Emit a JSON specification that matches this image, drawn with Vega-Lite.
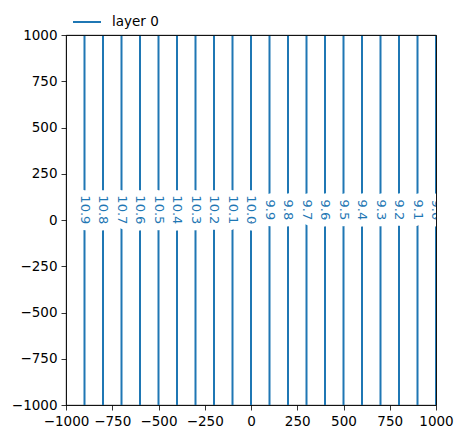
{
  "$schema": "https://vega.github.io/schema/vega-lite/v6.json",
  "width": 370,
  "height": 370,
  "autosize": {"type": "none"},
  "padding": {"left": 66, "top": 35, "right": 27, "bottom": 33},
  "background": "white",
  "config": {
    "font": "DejaVu Sans",
    "view": {"stroke": "black", "strokeWidth": 0.8},
    "axis": {
      "grid": false,
      "labelFont": "DejaVu Sans",
      "labelFontSize": 13.5,
      "labelColor": "black",
      "labelOverlap": false,
      "labelFlush": false,
      "tickColor": "black",
      "tickWidth": 0.8,
      "tickSize": 5,
      "domainColor": "black",
      "domainWidth": 0.8,
      "labelPadding": 4,
      "title": null
    }
  },
  "data": {
    "values": [
      {"x": -900, "level": 10.9, "series": "layer 0"},
      {"x": -800, "level": 10.8, "series": "layer 0"},
      {"x": -700, "level": 10.7, "series": "layer 0"},
      {"x": -600, "level": 10.6, "series": "layer 0"},
      {"x": -500, "level": 10.5, "series": "layer 0"},
      {"x": -400, "level": 10.4, "series": "layer 0"},
      {"x": -300, "level": 10.3, "series": "layer 0"},
      {"x": -200, "level": 10.2, "series": "layer 0"},
      {"x": -100, "level": 10.1, "series": "layer 0"},
      {"x": 0, "level": 10.0, "series": "layer 0"},
      {"x": 100, "level": 9.9, "series": "layer 0"},
      {"x": 200, "level": 9.8, "series": "layer 0"},
      {"x": 300, "level": 9.7, "series": "layer 0"},
      {"x": 400, "level": 9.6, "series": "layer 0"},
      {"x": 500, "level": 9.5, "series": "layer 0"},
      {"x": 600, "level": 9.4, "series": "layer 0"},
      {"x": 700, "level": 9.3, "series": "layer 0"},
      {"x": 800, "level": 9.2, "series": "layer 0"},
      {"x": 900, "level": 9.1, "series": "layer 0"},
      {"x": 1000, "level": 9.0, "series": "layer 0"}
    ]
  },
  "resolve": {"axis": {"x": "independent", "y": "independent"}},
  "layer": [
    {
      "mark": {"type": "rule", "strokeWidth": 2, "clip": true},
      "encoding": {
        "x": {
          "field": "x", "type": "quantitative",
          "scale": {"domain": [-1000, 1000], "nice": false, "zero": false},
          "axis": {"values": [-1000, -750, -500, -250, 0, 250, 500, 750, 1000], "format": "d", "title": null}
        },
        "color": {
          "field": "series", "type": "nominal",
          "scale": {"range": ["#1f77b4"]},
          "legend": {
            "orient": "none", "legendX": 6, "legendY": -28, "title": null,
            "symbolType": "stroke", "symbolSize": 784, "symbolStrokeWidth": 2,
            "labelFont": "DejaVu Sans", "labelFontSize": 13.5, "labelColor": "black",
            "labelOffset": 10, "padding": 0
          }
        }
      }
    },
    {
      "mark": {"type": "text", "angle": 90, "fontSize": 13, "font": "DejaVu Sans", "align": "center", "baseline": "middle", "clip": true, "fill": "white", "stroke": "white", "strokeWidth": 14, "strokeJoin": "round"},
      "encoding": {
        "x": {"field": "x", "type": "quantitative", "scale": {"domain": [-1000, 1000], "nice": false, "zero": false}, "axis": null},
        "y": {
          "datum": 55, "type": "quantitative",
          "scale": {"domain": [-1000, 1000], "nice": false, "zero": false},
          "axis": {"values": [-1000, -750, -500, -250, 0, 250, 500, 750, 1000], "format": "d", "title": null}
        },
        "text": {"field": "level", "type": "quantitative", "format": ".1f"}
      }
    },
    {
      "mark": {"type": "text", "angle": 90, "fontSize": 13, "font": "DejaVu Sans", "align": "center", "baseline": "middle", "clip": true, "fill": "#1f77b4"},
      "encoding": {
        "x": {"field": "x", "type": "quantitative", "axis": {"orient": "top", "labels": false, "ticks": false, "domain": true, "zindex": 1}},
        "y": {"datum": 55, "type": "quantitative", "axis": {"orient": "right", "labels": false, "ticks": false, "domain": true, "zindex": 1}},
        "text": {"field": "level", "type": "quantitative", "format": ".1f"}
      }
    }
  ]
}
